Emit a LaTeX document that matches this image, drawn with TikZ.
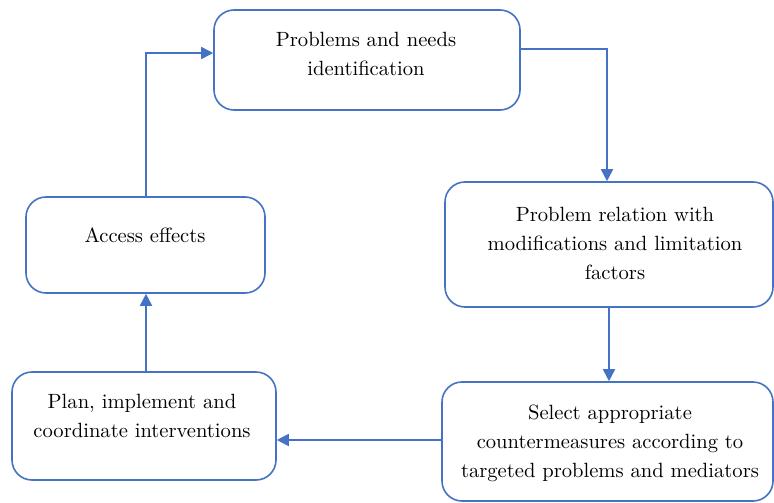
\documentclass[tikz,border=0pt]{standalone}
\usepackage{fontspec}
\newfontfamily\stagefont{lmroman10-regular}[Extension=.otf]
\usetikzlibrary{arrows.meta}
\definecolor{flowblue}{HTML}{4472C4}
\begin{document}
\begin{tikzpicture}[x=1pt,y=-1pt,
  stagebox/.style={draw=flowblue, line width=1.6pt, rounded corners=20pt,
    rectangle, inner sep=0pt},
  stagetext/.style={align=center, font=\stagefont\fontsize{20.6}{29}\selectfont,
    text=black, inner sep=0pt},
  flowarrow/.style={draw=flowblue, line width=1.8pt,
    -{Triangle[length=12pt,width=12pt]}}]
  \useasboundingbox (0,0) rectangle (774,503);

  % stage boxes
  \node[stagebox, minimum width=306pt, minimum height=100pt] (b1) at (367,60) {};
  \node[stagebox, minimum width=328pt, minimum height=125pt] (b2) at (609,244.5) {};
  \node[stagebox, minimum width=331pt, minimum height=119pt] (b3) at (607.5,441.5) {};
  \node[stagebox, minimum width=264pt, minimum height=108pt] (b4) at (144,426) {};
  \node[stagebox, minimum width=239pt, minimum height=96pt] (b5) at (145.5,245) {};

  % stage labels
  \node[stagetext] (t1) at (366,54) {Problems and needs\\identification};
  \node[stagetext] (t2) at (615,243) {Problem relation with\\modifications and limitation\\factors};
  \node[stagetext] (t3) at (610,443) {Select appropriate\\countermeasures according to\\targeted problems and mediators};
  \node[stagetext] (t4) at (142,416) {Plan, implement and\\coordinate interventions};
  \node[stagetext] (t5) at (145,235) {Access effects};

  % cycle connectors
  \draw[flowarrow] ([yshift=11pt]b1.east) -| ([xshift=-2pt]b2.north);
  \draw[flowarrow] (b2.south) -- (b2.south |- b3.north);
  \draw[flowarrow] ([yshift=1.5pt]b3.west) -- ([yshift=1.5pt]b3.west -| b4.east);
  \draw[flowarrow] ([xshift=2pt]b4.north) -- ([xshift=2pt]b4.north |- b5.south);
  \draw[flowarrow] ([xshift=0.5pt]b5.north) |- ([yshift=7pt]b1.west);
\end{tikzpicture}
\end{document}
